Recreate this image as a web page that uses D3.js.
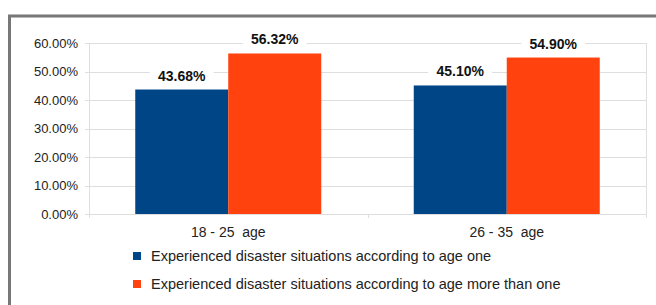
<!DOCTYPE html>
<html>
<head>
<meta charset="utf-8">
<script src="https://cdn.jsdelivr.net/npm/d3@7"></script>
<style>
  body { margin: 0; background: #fff; }
  svg { display: block; font-family: "Liberation Sans", Arial, sans-serif; }
</style>
</head>
<body>
<svg id="chart" width="656" height="305"></svg>
<script>
// data
var categories = ["18 - 25  age", "26 - 35  age"];
var seriesNames = ["Experienced disaster situations according to age one",
                   "Experienced disaster situations according to age more than one"];
var seriesOne = [43.68, 45.10];
var seriesMore = [56.32, 54.90];
var yTicks = [0, 10, 20, 30, 40, 50, 60];
var colors = ["#004586", "#ff420e"];

var svg = d3.select("#chart");

// outer frame (clipped on right/bottom like the picture)
svg.append("rect")
    .attr("x", 9.5).attr("y", 16)
    .attr("width", 700).attr("height", 400)
    .attr("fill", "none")
    .attr("stroke", "#777")
    .attr("stroke-width", 3);

var plotL = 89, plotR = 646, plotT = 43, plotB = 214;

var y = d3.scaleLinear().domain([0, 60]).range([plotB, plotT]);
var x0 = d3.scaleBand().domain(categories).range([plotL, plotR]).paddingInner(0).paddingOuter(0);
var x1 = d3.scaleBand().domain([0, 1]).range([0, 186]);
var bandPad = (x0.bandwidth() - 186) / 2;

// grid lines
svg.append("g").selectAll("line")
    .data(yTicks)
    .enter().append("line")
    .attr("x1", plotL - 4).attr("x2", plotR)
    .attr("y1", function(d) { return Math.round(y(d)) + 0.5; })
    .attr("y2", function(d) { return Math.round(y(d)) + 0.5; })
    .attr("stroke", "#dedede");

// vertical axis lines and category ticks
svg.append("line")
    .attr("x1", plotL + 0.5).attr("x2", plotL + 0.5)
    .attr("y1", plotT).attr("y2", plotB + 4)
    .attr("stroke", "#dedede");
svg.append("g").selectAll("line")
    .data(categories.slice(1).map(function(c) { return x0(c); }).concat([plotR]))
    .enter().append("line")
    .attr("x1", function(d) { return Math.round(d) + 0.5; })
    .attr("x2", function(d) { return Math.round(d) + 0.5; })
    .attr("y1", function(d) { return d === plotR ? plotT : plotB; })
    .attr("y2", plotB + 4)
    .attr("stroke", "#dedede");

// y tick labels
svg.append("g").selectAll("text")
    .data(yTicks)
    .enter().append("text")
    .attr("x", 78)
    .attr("y", function(d) { return y(d); })
    .attr("dy", "0.35em")
    .attr("text-anchor", "end")
    .attr("font-size", 13)
    .attr("fill", "#222")
    .text(function(d) { return d.toFixed(2) + "%"; });

var series = [seriesOne, seriesMore];

var bars = [];
categories.forEach(function(c, i) {
    series.forEach(function(s, j) {
        bars.push({cat: c, k: j, v: s[i]});
    });
});

svg.append("g").selectAll("rect")
    .data(bars)
    .enter().append("rect")
    .attr("x", function(d) { return x0(d.cat) + bandPad + x1(d.k); })
    .attr("y", function(d) { return y(d.v); })
    .attr("width", x1.bandwidth())
    .attr("height", function(d) { return y(0) - y(d.v); })
    .attr("fill", function(d) { return colors[d.k]; });

// value labels with white backing
var lab = svg.append("g").selectAll("g")
    .data(bars)
    .enter().append("g")
    .attr("transform", function(d) {
        return "translate(" + (x0(d.cat) + bandPad + x1(d.k) + x1.bandwidth() / 2) + "," + (y(d.v) - 9) + ")";
    });
lab.append("rect")
    .attr("x", -32).attr("y", -14)
    .attr("width", 64).attr("height", 16)
    .attr("fill", "#fff");
lab.append("text")
    .attr("text-anchor", "middle")
    .attr("font-size", 14)
    .attr("font-weight", "bold")
    .attr("fill", "#111")
    .text(function(d) { return d.v.toFixed(2) + "%"; });

// category labels
svg.append("g").selectAll("text")
    .data(categories)
    .enter().append("text")
    .attr("x", function(d) { return x0(d) + x0.bandwidth() / 2; })
    .attr("y", 237)
    .attr("text-anchor", "middle")
    .attr("font-size", 14)
    .attr("fill", "#222")
    .style("white-space", "pre")
    .text(function(d) { return d; });

// legend
var leg = svg.append("g").selectAll("g")
    .data(seriesNames)
    .enter().append("g")
    .attr("transform", function(d, i) { return "translate(133," + (252 + i * 28) + ")"; });
leg.append("rect")
    .attr("width", 8).attr("height", 8)
    .attr("fill", function(d, i) { return colors[i]; });
leg.append("text")
    .attr("x", 18).attr("y", 9)
    .attr("font-size", 14.5)
    .attr("fill", "#222")
    .text(function(d) { return d; });
</script>
</body>
</html>
